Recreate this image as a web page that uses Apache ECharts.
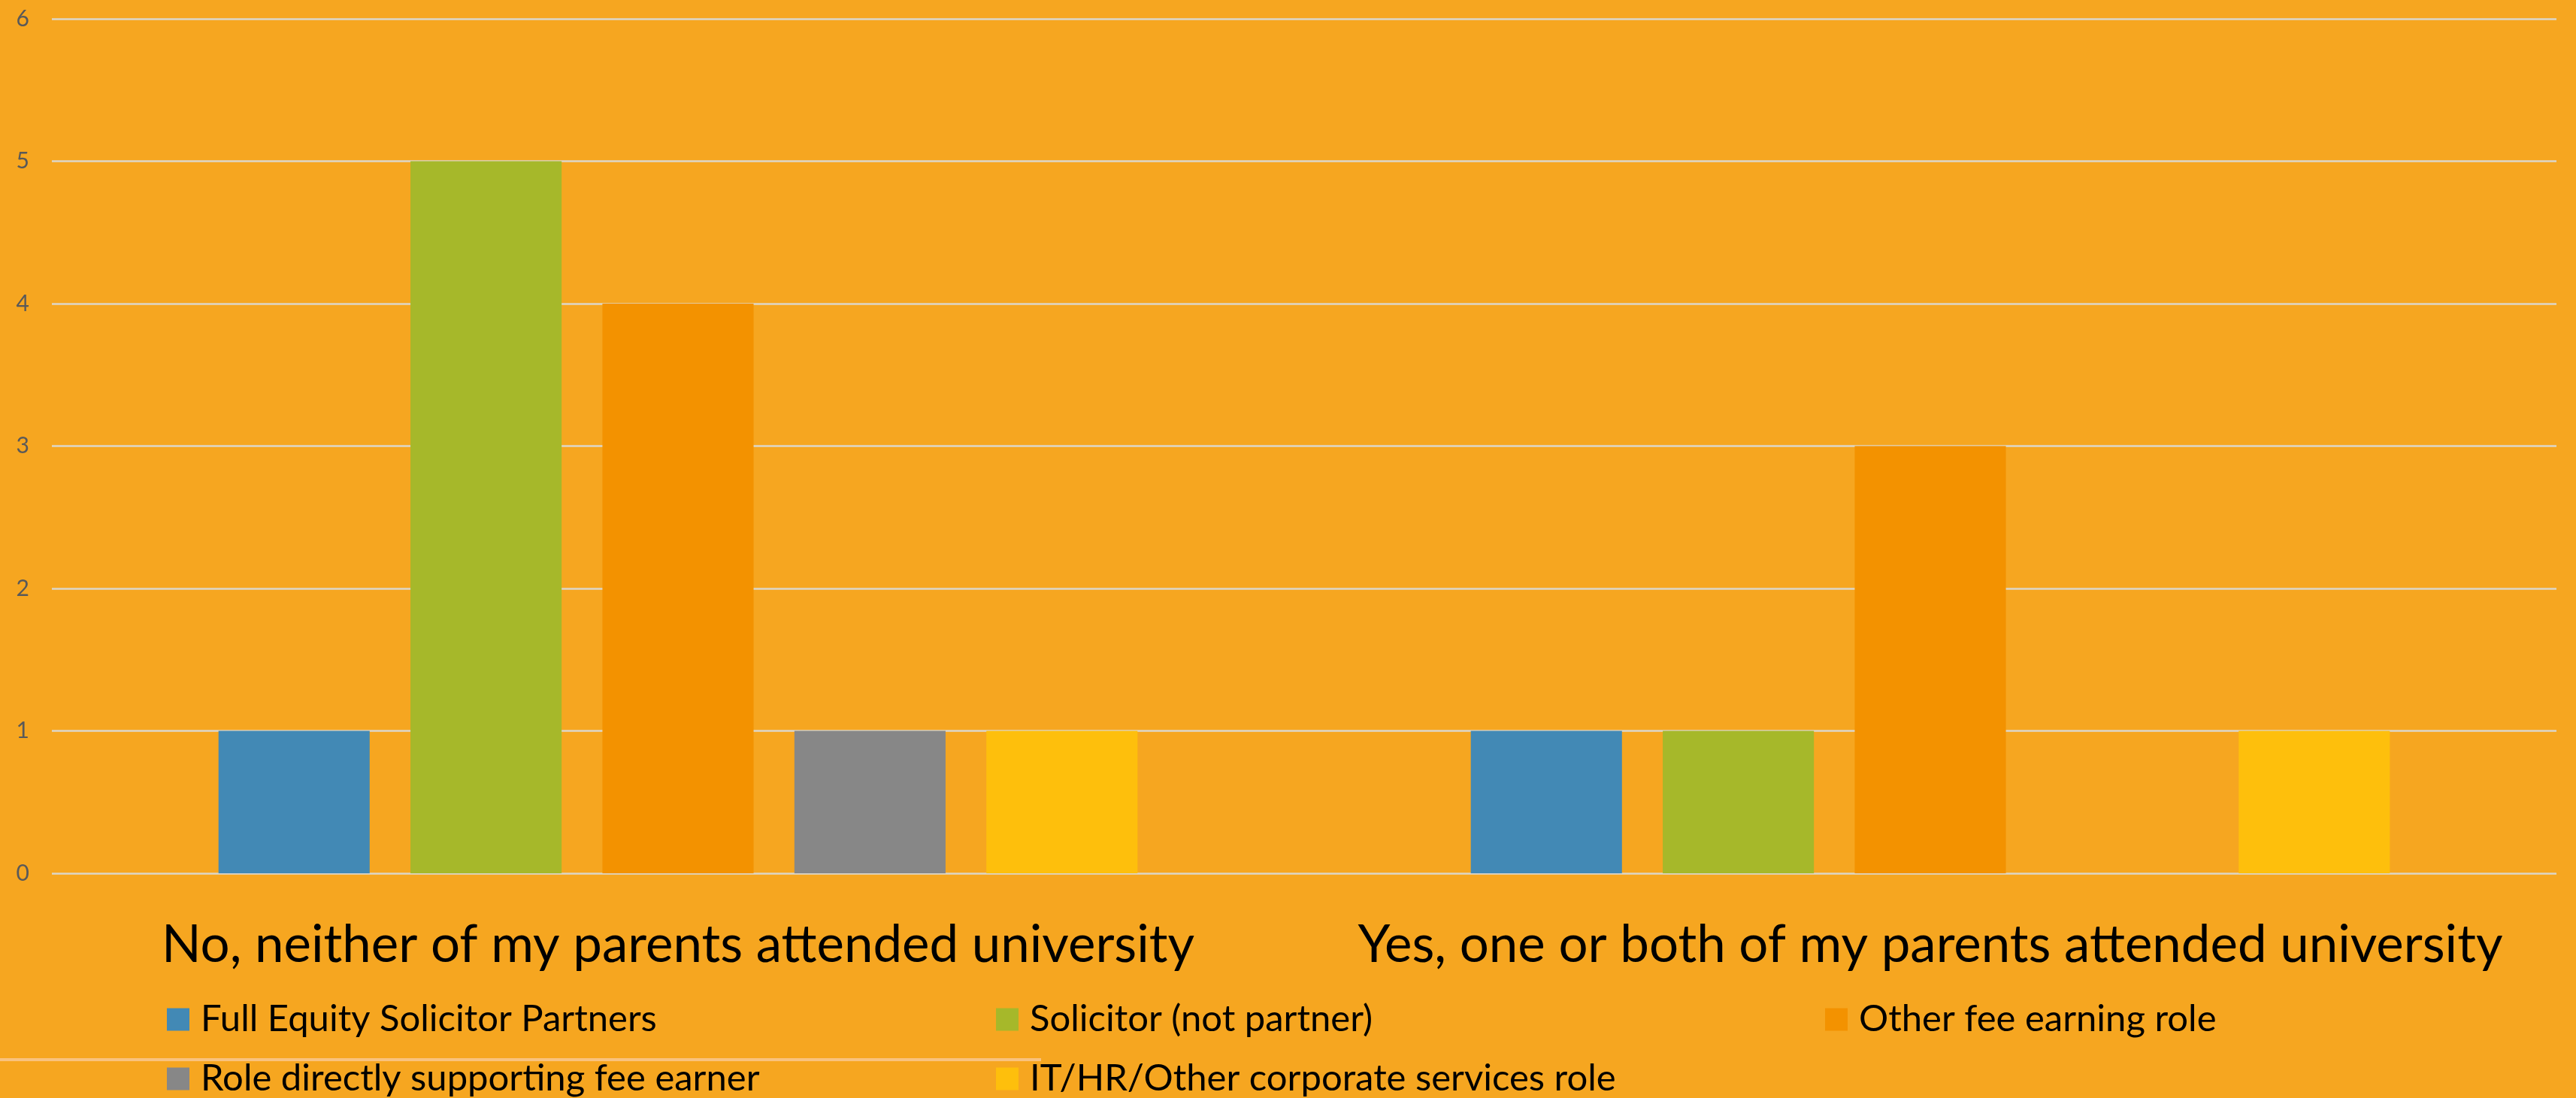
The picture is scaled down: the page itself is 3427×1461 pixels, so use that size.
<!DOCTYPE html>
<html>
<head>
<meta charset="utf-8">
<title>Roles by parents' university attendance</title>
<script src="https://cdn.jsdelivr.net/npm/echarts@6/dist/echarts.min.js"></script>
<style>
    html, body { margin: 0; padding: 0; background: #F6A620; }
    #chart { width: 3427px; height: 1461px; }
</style>
</head>
<body>
<div id="chart"></div>
<script>
// categories on the x axis
var categories = [
    'No, neither of my parents attended university',
    'Yes, one or both of my parents attended university'
];

// one series per role
var roles = [
    'Full Equity Solicitor Partners',
    'Solicitor (not partner)',
    'Other fee earning role',
    'Role directly supporting fee earner',
    'IT/HR/Other corporate services role'
];
var fullEquity = [1, 1];
var solicitor = [5, 1];
var otherFee = [4, 3];
var supporting = [1, 0];
var corporate = [1, 1];

var yTicks = [0, 6, 1]; // min, max, step

var colors = ['#4289B5', '#A6B82A', '#F39200', '#878787', '#FEBF0C'];
var font = 'Lato, "Open Sans", sans-serif';

var chart = echarts.init(document.getElementById('chart'));

var values = [fullEquity, solicitor, otherFee, supporting, corporate];

chart.setOption({
    backgroundColor: '#F6A620',
    animation: false,
    textStyle: {fontFamily: font},
    grid: {
        left: 69,
        right: 26,
        top: 25,
        bottom: 299,
        containLabel: false
    },
    legend: {
        left: 222,
        top: 1332,
        width: 3300,
        padding: 0,
        itemWidth: 30,
        itemHeight: 30,
        itemGap: 30,
        selectedMode: false,
        icon: 'rect',
        data: roles,
        textStyle: {
            color: '#000',
            fontFamily: font,
            fontSize: 49,
            lineHeight: 49,
            width: 1028,
            padding: [0, 0, 0, 10]
        }
    },
    xAxis: {
        type: 'category',
        data: categories,
        axisLine: {show: false},
        axisTick: {show: false},
        axisLabel: {
            color: '#000',
            fontFamily: font,
            fontSize: 69,
            lineHeight: 74,
            margin: 59,
            interval: 0
        }
    },
    yAxis: {
        type: 'value',
        min: yTicks[0],
        max: yTicks[1],
        interval: yTicks[2],
        axisLine: {show: false},
        axisTick: {show: false},
        axisLabel: {
            color: '#595959',
            fontFamily: font,
            fontSize: 30,
            margin: 30
        },
        splitLine: {
            lineStyle: {color: '#DCD6C8', width: 2.5}
        }
    },
    graphic: [{
        type: 'rect',
        left: 0,
        top: 1408,
        shape: {width: 1385, height: 4},
        style: {fill: '#F9C27E'},
        silent: true
    }],
    series: roles.map(function (name, i) {
        return {
            name: name,
            type: 'bar',
            data: values[i],
            barWidth: '12.07%',
            barGap: '27%',
            itemStyle: {color: colors[i]}
        };
    })
});
</script>
</body>
</html>
